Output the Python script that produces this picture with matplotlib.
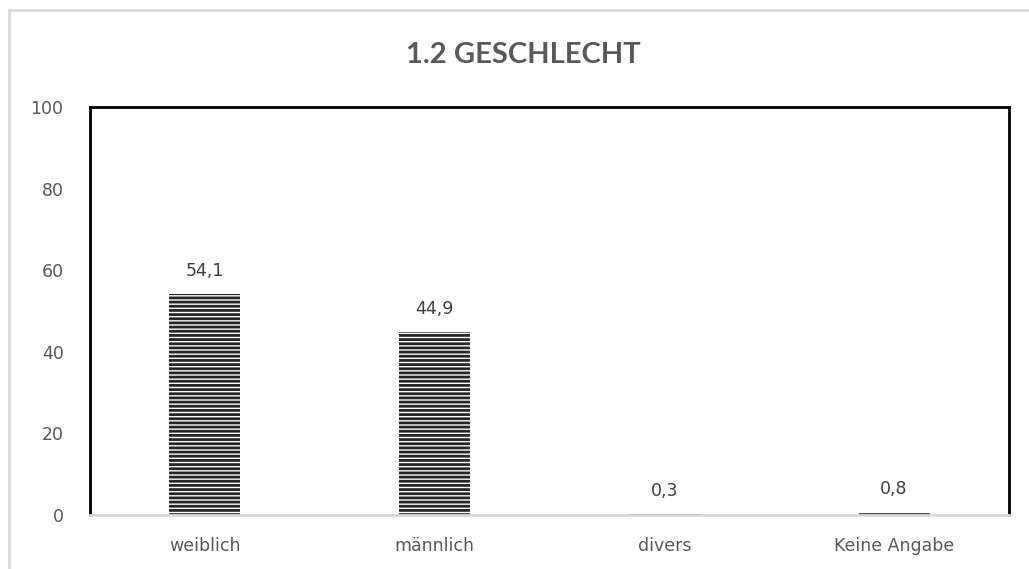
import matplotlib
matplotlib.use("Agg")
import matplotlib.pyplot as plt
from matplotlib.patches import Rectangle

categories = ["weiblich", "männlich", "divers", "Keine Angabe"]
values = [54.1, 44.9, 0.3, 0.8]
value_labels = ["54,1", "44,9", "0,3", "0,8"]
yticks = [0, 20, 40, 60, 80, 100]

W, H = 1029, 569
fig = plt.figure(figsize=(W / 100, H / 100), dpi=100)
fig.patch.set_facecolor("white")

# outer chart border (cropped at right/bottom)
fig.patches.append(Rectangle((9 / W, -0.1), 1.2, (H - 10) / H + 0.1,
                             transform=fig.transFigure, fill=False,
                             edgecolor="#d9d9d9", linewidth=2))

ax = fig.add_axes([90 / W, (H - 515) / H, (1009 - 90) / W, (515 - 107) / H])
plt.rcParams["hatch.linewidth"] = 2.0
x = range(len(categories))
bars = ax.bar(x, values, width=0.31, color="white", edgecolor="#262626",
              linewidth=0, hatch="----")

ax.set_xlim(-0.5, len(categories) - 0.5)
ax.set_ylim(0, 100)
ax.set_yticks(yticks)
ax.set_yticklabels([str(v) for v in yticks])
ax.set_xticks(list(x))
ax.set_xticklabels(categories)
ax.tick_params(axis="both", length=0, colors="#595959", labelsize=12.5)
ax.tick_params(axis="y", pad=19)
ax.tick_params(axis="x", pad=16)

for s in ["top", "left", "right"]:
    ax.spines[s].set_color("black")
    ax.spines[s].set_linewidth(2)
ax.spines["bottom"].set_color("#d9d9d9")
ax.spines["bottom"].set_linewidth(2)

for xi, v, lab in zip(x, values, value_labels):
    ax.annotate(lab, (xi, v), xytext=(0, 10), textcoords="offset points",
                ha="center", va="bottom", fontsize=12.5, color="#404040")

fig.text(523 / W, 1 - 55 / H, "1.2 GESCHLECHT", ha="center", va="center",
         fontsize=21, fontweight="bold", color="#595959",
         family=["Liberation Sans Narrow", "Lato", "DejaVu Sans"])

fig.savefig("out.png", dpi=100)
